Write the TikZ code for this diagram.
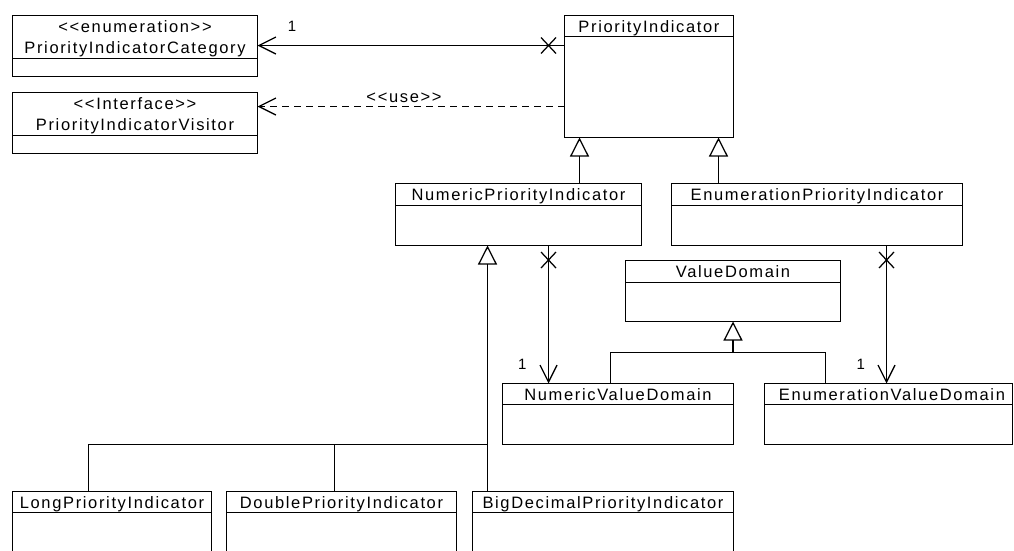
\documentclass[tikz,border=0pt]{standalone}
\usepackage{fontspec}
\newfontfamily\umlfont{Liberation Sans}[LetterSpace=10]
\usetikzlibrary{arrows.meta,fit}
\tikzset{
  clsbox/.style={draw, line width=1.25pt, inner sep=0pt, outer sep=0pt},
  ttl/.style={font=\umlfont\fontsize{16.5}{21}\selectfont, inner sep=0pt, anchor=base},
  lbl/.style={font=\umlfont\fontsize{15}{18}\selectfont, inner sep=0pt, anchor=base},
  plain/.style={line width=1.25pt},
  assoc/.style={line width=1.25pt, -{Straight Barb[length=17pt, width=17pt]}},
  dep/.style={line width=1.25pt, dash pattern=on 7pt off 5pt, -{Straight Barb[length=17pt, width=17pt]}},
  gen/.style={line width=1.25pt, -{Triangle[open, length=19pt, width=19pt]}}
}
\newcommand{\umlclass}[7]{%
  \coordinate (#1-nw) at (#2,#3);
  \coordinate (#1-se) at (#4,#5);
  \node[clsbox, fit=(#1-nw)(#1-se)] (#1) {};
  \draw[plain] (#2,#6) -- (#4,#6);
  \node[ttl] (#1-t) at ({(#2+#4)/2},{#3+17}) {#7};
}
\newcommand{\xcross}[1]{\draw[plain] (#1) +(-7.5,-8) -- +(7.5,8) +(-7.5,8) -- +(7.5,-8);}
\begin{document}
\begin{tikzpicture}[x=1pt,y=-1pt]
\useasboundingbox (0,0) rectangle (1014,550);
\fill[white] (0,0) rectangle (1014,550);
\clip (0,0) rectangle (1014,550);
% classes
\umlclass{cat}{12.5}{15.5}{257.5}{76.5}{58.5}{<<enumeration>>}
\node[ttl] (cat-t2) at (135,53.5) {PriorityIndicatorCategory};
\umlclass{vis}{12.5}{92.5}{257.5}{153.5}{135.5}{<<Interface>>}
\node[ttl] (vis-t2) at (135,130.5) {PriorityIndicatorVisitor};
\umlclass{pi}{564.5}{15.5}{733.5}{137.5}{36.5}{PriorityIndicator}
\umlclass{npi}{395.5}{183.5}{641.5}{245.5}{205.5}{NumericPriorityIndicator}
\umlclass{epi}{671.5}{183.5}{962.5}{245.5}{205.5}{EnumerationPriorityIndicator}
\umlclass{vd}{625.5}{260.5}{840.5}{321.5}{282.5}{ValueDomain}
\umlclass{nvd}{502.5}{383.5}{733.5}{444.5}{404.5}{NumericValueDomain}
\umlclass{evd}{764.5}{383.5}{1012.5}{444.5}{404.5}{}
\node[ttl] (evd-t2) at (892,400.5) {EnumerationValueDomain};
\umlclass{long}{12.5}{491.5}{211.5}{560}{512.5}{LongPriorityIndicator}
\umlclass{dbl}{226.5}{491.5}{456.5}{560}{512.5}{DoublePriorityIndicator}
\umlclass{big}{472.5}{491.5}{733.5}{560}{512.5}{BigDecimalPriorityIndicator}
% association PriorityIndicator -> Category
\coordinate (a1s) at (pi.west |- 0,45.5);
\draw[assoc] (a1s) -- (cat.east |- a1s);
\coordinate (a1x) at (548.5,0 |- a1s);
\xcross{a1x}
\node[lbl] (m1) at (292,31.7) {1};
% dependency PriorityIndicator -> Visitor
\coordinate (d1s) at (pi.west |- 0,106.5);
\draw[dep] (d1s) -- (vis.east |- d1s);
\node[ttl] (use) at (404,102.7) {<<use>>};
% generalizations to PriorityIndicator
\draw[gen] (579.5,0 |- npi.north) -- (579.5,0 |- pi.south);
\draw[gen] (718.5,0 |- epi.north) -- (718.5,0 |- pi.south);
% associations to value domains
\draw[assoc] (548.5,0 |- npi.south) -- (548.5,0 |- nvd.north);
\coordinate (a2x) at (548.5,260);
\xcross{a2x}
\node[lbl] (m2) at (522.3,369.5) {1};
\draw[assoc] (886.5,0 |- epi.south) -- (886.5,0 |- evd.north);
\coordinate (a3x) at (886.5,260);
\xcross{a3x}
\node[lbl] (m3) at (860.7,369.5) {1};
% generalization to ValueDomain
\coordinate (vdj) at (vd.south |- 0,352.5);
\draw[gen] (vdj) -- (vd.south);
\draw[plain] (610.5,0 |- nvd.north) |- (vdj) -| (825.5,0 |- evd.north);
% generalization to NumericPriorityIndicator
\coordinate (nj) at (487.5,444.5);
\draw[gen] (487.5,0 |- big.north) -- (487.5,0 |- npi.south);
\draw[plain] (88.5,0 |- long.north) |- (nj);
\draw[plain] (334.5,0 |- dbl.north) -- (334.5,0 |- nj);
\end{tikzpicture}
\end{document}
